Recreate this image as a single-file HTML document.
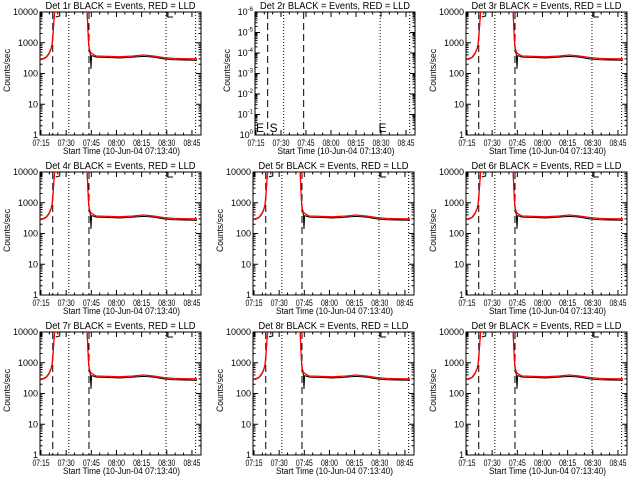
<!DOCTYPE html>
<html><head><meta charset="utf-8">
<style>
html,body{margin:0;padding:0;background:#fff;}
svg{display:block;font-family:"Liberation Sans",sans-serif;}
</style></head>
<body>
<svg id="c" width="640" height="480" viewBox="0 0 640 480"></svg>
<script>
// data (minutes after 07:00)
const tickLabels = ["07:15","07:30","07:45","08:00","08:15","08:30","08:45"];
const tickMins = [15,30,45,60,75,90,105];
const redTimes = [14.4,16,18,19,20,21,21.6,22,22.4,22.8,23.2,23.6,42.2,42.6,43,43.4,43.8,44.4,45,46,48,55,62,70,76,82,88,94,100,108];
const redVals  = [290,300,340,400,480,650,900,1500,3000,6000,12000,30000,30000,8000,2500,1000,650,500,460,420,370,360,350,370,400,370,330,310,300,300];
const blackTimes = [14.4,16,18,19,20,21,21.6,22,22.4,22.8,23.2,23.6,42.2,42.6,43,43.4,43.8,44.4,44.8,45.2,46,48,55,62,70,76,82,88,94,100,108];
const blackVals  = [280,290,330,380,460,620,880,1400,2900,5800,11000,28000,28000,7500,2300,900,560,420,140,380,370,340,330,320,340,360,340,300,280,275,270];
const dashedLines = [22.0, 43.6];
const dottedLines = [31.6, 89.5, 107.2];
const panelTitles = ["Det 1r","Det 2r","Det 3r","Det 4r","Det 5r","Det 6r","Det 7r","Det 8r","Det 9r"];

const NS="http://www.w3.org/2000/svg";
const svg=document.getElementById('c');
function mk(tag,attrs,parent){const e=document.createElementNS(NS,tag);for(const k in attrs)e.setAttribute(k,attrs[k]);(parent||svg).appendChild(e);return e;}

const xMin=14.4, xMax=110.4;
for(let p=0;p<9;p++){
  const col=p%3,row=Math.floor(p/3);
  const ox=col*213, oy=row*160;
  const empty=(p===1);
  const L=ox+(empty?42:40), R=ox+(empty?202:201), T=oy+12, B=oy+135;
  const g=mk('g',{});
  
  
  const xs=m=>L+(m-xMin)/(xMax-xMin)*(R-L);
  const ys=v=>B-(Math.log10(v))/4*(B-T);
  const cid='clip'+p;
  const cp=mk('clipPath',{id:cid},g); mk('rect',{x:L,y:T,width:R-L,height:B-T},cp);
  const t=mk('text',{x:(L+R)/2,y:oy+9,'text-anchor':'middle','font-size':10,fill:'#000',textLength:150,lengthAdjust:'spacingAndGlyphs'},g);
  t.textContent=panelTitles[p]+" BLACK = Events, RED = LLD";
  
  
  const fr=mk('rect',{x:L,y:T,width:R-L,height:B-T,fill:'none',stroke:'#000','stroke-width':1},g);
  
  
  for(let i=0;i<tickMins.length;i++){
    const x=xs(tickMins[i]);
    mk('line',{x1:x,y1:B,x2:x,y2:B-5,stroke:'#000'},g);
    mk('line',{x1:x,y1:T,x2:x,y2:T+5,stroke:'#000'},g);
    const tl=mk('text',{x:x,y:oy+146,'text-anchor':'middle','font-size':9,fill:'#000',textLength:17,lengthAdjust:'spacingAndGlyphs'},g);
    tl.textContent=tickLabels[i];
    
    
  }
  for(let m=20;m<110;m+=5){ if(m%15===0)continue; const x=xs(m);
    mk('line',{x1:x,y1:B,x2:x,y2:B-2.5,stroke:'#000'},g);
    mk('line',{x1:x,y1:T,x2:x,y2:T+2.5,stroke:'#000'},g);}
  const xl=mk('text',{x:(L+R)/2+1,y:oy+154,'text-anchor':'middle','font-size':9,fill:'#000',textLength:117,lengthAdjust:'spacingAndGlyphs'},g);
  xl.textContent="Start Time (10-Jun-04 07:13:40)";
  
  
  const yl=mk('text',{x:0,y:0,'text-anchor':'middle','font-size':9,fill:'#000',textLength:43,lengthAdjust:'spacingAndGlyphs',transform:`translate(${ox+(empty?17:10)},${(T+B)/2-3}) rotate(-90)`},g);
  yl.textContent="Counts/sec";
  
  
  const decs=empty?6:4;
  for(let d=0;d<=decs;d++){
    const y=B-d/decs*(B-T);
    mk('line',{x1:L,y1:y,x2:L+5,y2:y,stroke:'#000'},g);
    mk('line',{x1:R,y1:y,x2:R-5,y2:y,stroke:'#000'},g);
    const lab=mk('text',{x:L-2,y:y+3,'text-anchor':'end','font-size':9,fill:'#000'},g);
    
    
    if(empty){ lab.textContent='10'; const s=mk('tspan',{dy:-4,'font-size':6},lab); s.textContent=d===0?'0':'-'+d; }
    else lab.textContent=String(Math.pow(10,d));
    if(d<decs) for(let k=2;k<10;k++){const yy=y-Math.log10(k)/decs*(B-T);
      mk('line',{x1:L,y1:yy,x2:L+2.5,y2:yy,stroke:'#000'},g);
      mk('line',{x1:R,y1:yy,x2:R-2.5,y2:yy,stroke:'#000'},g);}
  }
  dashedLines.forEach(m=>{const l=mk('line',{x1:xs(m),y1:T,x2:xs(m),y2:B,stroke:'#000','stroke-dasharray':'7,4'},g);
    });
  dottedLines.forEach(m=>{const l=mk('line',{x1:xs(m),y1:T,x2:xs(m),y2:B,stroke:'#000','stroke-dasharray':'1,2'},g);
    });
  if(empty){
    [['E',L+1],['S',xs(22)+2],['E',xs(88.5)]].forEach(a=>{const e=mk('text',{x:a[1],y:B-3,'font-size':12,fill:'#000'},g);e.textContent=a[0];
      });
    continue;
  }
  mk('path',{d:`M${L+8},${T} L${L+2},${T} L${L+2},${T+5} M${xs(22)+2},${T} L${xs(22)+7},${T} L${xs(22)+7},${T+4} L${xs(22)+3},${T+5}`,fill:'none',stroke:'#000'},g);
  mk('path',{d:`M${xs(89.5)+8},${T} L${xs(89.5)+2},${T} L${xs(89.5)+2},${T+5} L${xs(89.5)+7},${T+5}`,fill:'none',stroke:'#000'},g);
  const cg=mk('g',{'clip-path':`url(#${cid})`},g);
  const bl=mk('polyline',{points:blackTimes.map((t,i)=>xs(t)+','+ys(blackVals[i])).join(' '),fill:'none',stroke:'#000','stroke-width':1},cg);
  
  
  const rl=mk('polyline',{points:redTimes.map((t,i)=>xs(t)+','+ys(redVals[i])).join(' '),fill:'none',stroke:'#f00','stroke-width':1.3},cg);
  
  
}
</script>
</body></html>
